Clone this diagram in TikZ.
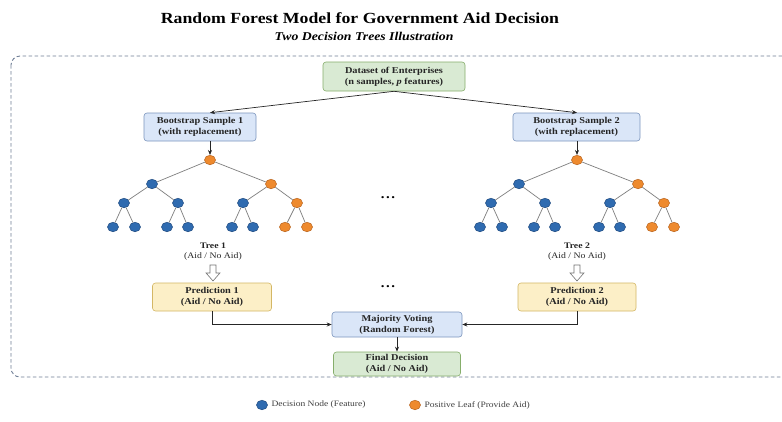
\documentclass[tikz,border=0pt]{standalone}
\usepackage{fontspec}
\setmainfont{Liberation Serif}[FakeStretch=1.15]
\usetikzlibrary{arrows.meta,shapes.geometric,calc}
\definecolor{gfill}{HTML}{D9EAD3}
\definecolor{gline}{HTML}{86AE6B}
\definecolor{bfill}{HTML}{DAE6F8}
\definecolor{bline}{HTML}{7C95BD}
\definecolor{yfill}{HTML}{FCEFC7}
\definecolor{yline}{HTML}{D4B765}
\definecolor{ndblue}{HTML}{2F6BB0}
\definecolor{ndblueb}{HTML}{1E4A80}
\definecolor{ndor}{HTML}{EE8A2E}
\definecolor{ndorb}{HTML}{B8621C}
\definecolor{framec}{HTML}{6F7E96}
\definecolor{edgec}{HTML}{7E7E7E}
\newcommand{\mktree}[2]{%
\begin{scope}[xshift=#2]
\node[onode] (#1r) at (210,160) {};
\node[dnode] (#1a) at (152,184) {};
\node[onode] (#1b) at (271,184) {};
\node[dnode] (#1aa) at (124,203) {};
\node[dnode] (#1ab) at (178,203) {};
\node[dnode] (#1ba) at (243,203) {};
\node[onode] (#1bb) at (297,203) {};
\node[dnode] (#1aaa) at (113,227) {};
\node[dnode] (#1aab) at (135,227) {};
\node[dnode] (#1aba) at (167,227) {};
\node[dnode] (#1abb) at (188,227) {};
\node[dnode] (#1baa) at (232,227) {};
\node[dnode] (#1bab) at (253,227) {};
\node[onode] (#1bba) at (285,227) {};
\node[onode] (#1bbb) at (307,227) {};
\foreach \p/\c in {r/a,r/b,a/aa,a/ab,b/ba,b/bb,aa/aaa,aa/aab,ab/aba,ab/abb,ba/baa,ba/bab,bb/bba,bb/bbb}
  \draw[treeedge] (#1\p) -- (#1\c);
\end{scope}}
\begin{document}
\begin{tikzpicture}[x=1bp,y=-1bp,
  box/.style={draw, rounded corners=3bp, line width=0.6pt, align=center,
    font=\bfseries\fontsize{9}{11}\selectfont, text=black!85, inner sep=0pt},
  greenbox/.style={box, fill=gfill, draw=gline},
  bluebox/.style={box, fill=bfill, draw=bline},
  yellowbox/.style={box, fill=yfill, draw=yline},
  dnode/.style={ellipse, draw=ndblueb, fill=ndblue, line width=0.5pt, minimum width=11bp, minimum height=9.5bp, inner sep=0pt},
  onode/.style={ellipse, draw=ndorb, fill=ndor, line width=0.5pt, minimum width=11bp, minimum height=9.5bp, inner sep=0pt},
  treeedge/.style={draw=edgec, line width=0.7pt},
  arr/.style={draw=black!85, line width=0.7pt, -{Stealth[length=5bp,width=4bp]}},
  hollow/.style={draw=black!55, fill=white, line width=0.6pt},
  tlabel/.style={align=center, font=\fontsize{8.5}{10.5}\selectfont, text=black!85},
  legtext/.style={anchor=west, font=\fontsize{8.3}{10}\selectfont, text=black!75}
]
\useasboundingbox (0,0) rectangle (782,421);
\fill[white] (0,0) rectangle (782,421);

% title
\node[font=\bfseries\fontsize{15.5}{18}\selectfont] (title) at (360,18) {Random Forest Model for Government Aid Decision};
\node[font=\bfseries\itshape\fontsize{12}{14}\selectfont] (subtitle) at (364,36) {Two Decision Trees Illustration};

% frame
\draw[framec, line width=0.9pt, dash pattern=on 3.5bp off 2.5bp, rounded corners=9bp] (11,56) rectangle (800,377);

% boxes
\node[greenbox, minimum width=142bp, minimum height=29bp] (ds) at (394,76.5) {Dataset of Enterprises\\(n samples, \textit{p} features)};
\node[bluebox, minimum width=112bp, minimum height=28bp] (b1) at (200,127) {Bootstrap Sample 1\\(with replacement)};
\node[bluebox, minimum width=127bp, minimum height=28bp] (b2) at (576.5,127) {Bootstrap Sample 2\\(with replacement)};

\mktree{t1}{0bp}
\mktree{t2}{367bp}

\draw[arr] (ds.south) -- (b1.north -| t1r);
\draw[arr] (ds.south) -- (b2.north -| t2r);
\draw[arr] (b1.south -| t1r) -- (t1r);
\draw[arr] (b2.south -| t2r) -- (t2r);

\node[font=\bfseries\fontsize{13}{13}\selectfont, anchor=base] (dots1) at (388,198) {.\hspace{1.5bp}.\hspace{1.5bp}.};
\node[font=\bfseries\fontsize{13}{13}\selectfont, anchor=base] (dots2) at (388,287) {.\hspace{1.5bp}.\hspace{1.5bp}.};

\node[tlabel] (tl1) at (213,251.5) {\textbf{Tree 1}\\(Aid / No Aid)};
\node[tlabel] (tl2) at (577,251.5) {\textbf{Tree 2}\\(Aid / No Aid)};

\node[yellowbox, minimum width=119bp, minimum height=28bp] (p1) at (212,297) {Prediction 1\\(Aid / No Aid)};
\node[yellowbox, minimum width=118bp, minimum height=28bp] (p2) at (577,297) {Prediction 2\\(Aid / No Aid)};

% hollow arrows
\foreach \t in {tl1,tl2}{
  \draw[hollow] ($(\t.south)+(-3,1)$) -- ($(\t.south)+(3,1)$) -- ($(\t.south)+(3,9)$) -- ($(\t.south)+(7,9)$)
    -- ($(\t.south)+(0,17)$) -- ($(\t.south)+(-7,9)$) -- ($(\t.south)+(-3,9)$) -- cycle;
}

\node[bluebox, minimum width=130bp, minimum height=25bp] (mv) at (397,324.5) {Majority Voting\\(Random Forest)};
\node[greenbox, minimum width=127bp, minimum height=24bp] (fd) at (397,364) {Final Decision\\(Aid / No Aid)};

\draw[arr] (p1.south) |- (mv.west);
\draw[arr] (p2.south) |- (mv.east);
\draw[arr] (mv.south) -- (fd.north);

% legend
\node[dnode] (lg1) at (262,405) {};
\node[legtext] (lg1t) at (268,405) {Decision Node (Feature)};
\node[onode] (lg2) at (415,405) {};
\node[legtext] (lg2t) at (421,405) {Positive Leaf (Provide Aid)};
\end{tikzpicture}
\end{document}
